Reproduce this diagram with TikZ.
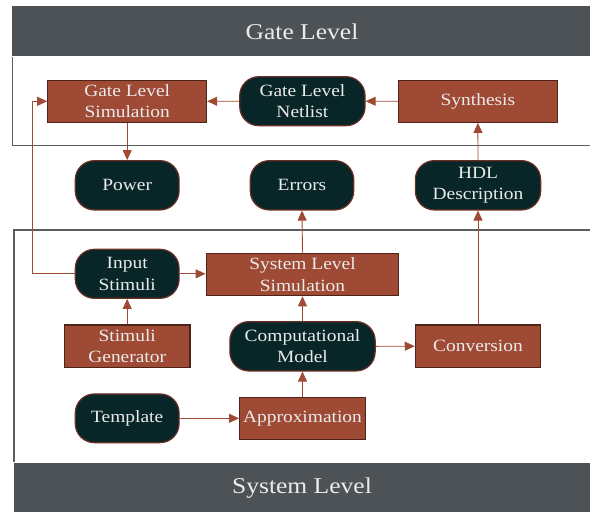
\documentclass[tikz,border=0pt]{standalone}
\usepackage{fontspec}
\setmainfont{Liberation Serif}[FakeStretch=1.13]
\usetikzlibrary{arrows.meta}
\definecolor{banner}{HTML}{4D5257}
\definecolor{rust}{HTML}{9E4A35}
\definecolor{rustdark}{HTML}{4F2418}
\definecolor{teal}{HTML}{082628}
\definecolor{tealedge}{HTML}{6B2E22}
\definecolor{arrowc}{HTML}{A04A35}
\definecolor{txt}{HTML}{EBEBEB}
\definecolor{framec}{HTML}{5A5E60}
\tikzset{
  base/.style={inner sep=0pt, align=center, text=txt,
    font=\fontsize{17.2}{21.5}\selectfont},
  rbox/.style={base, fill=rust, draw=rustdark, line width=1.2pt},
  dbox/.style={base, fill=teal, draw=tealedge, line width=1.2pt, rounded corners=19pt},
  arr/.style={draw=arrowc, line width=0.9pt, -{Triangle[length=10pt,width=9pt]}},
  frm/.style={draw=framec, line width=1.3pt},
}
\begin{document}
\begin{tikzpicture}[x=1pt,y=-1pt]
\useasboundingbox (0,0) rectangle (590,512);
% banners
\fill[banner] (12.4,6) rectangle (590,56);
\node[text=txt, font=\fontsize{22.6}{26}\selectfont] (gtitle) at (302,31.5) {Gate Level};
\fill[banner] (13.9,463.3) rectangle (590,512);
\node[text=txt, font=\fontsize{22.6}{26}\selectfont] (stitle) at (302,488.3) {System Level};
% frames
\draw[frm] (12.4,57) -- (12.4,145.7) -- (590,145.7);
\draw[frm] (590,230) -- (13.9,230) -- (13.9,461.7);
% nodes
\node[rbox, minimum width=158.8pt, minimum height=42pt] (gls) at (127.2,101.3) {Gate Level\\Simulation};
\node[dbox, minimum width=125.3pt, minimum height=49pt] (gln) at (302.4,101.2) {Gate Level\\Netlist};
\node[rbox, minimum width=158.8pt, minimum height=42pt] (syn) at (477.9,101.3) {Synthesis};
\node[dbox, minimum width=103.8pt, minimum height=49.3pt] (power) at (127.2,185.3) {Power};
\node[dbox, minimum width=103.5pt, minimum height=49.3pt] (errors) at (302,185.3) {Errors};
\node[dbox, minimum width=125.3pt, minimum height=49.3pt] (hdl) at (478,185.3) {HDL\\Description};
\node[dbox, minimum width=103.8pt, minimum height=49pt] (inp) at (127.2,273.8) {Input\\Stimuli};
\node[rbox, minimum width=192.7pt, minimum height=42.4pt] (sls) at (302.5,274.5) {System Level\\Simulation};
\node[rbox, minimum width=125.7pt, minimum height=42.3pt] (stg) at (127.2,346.2) {Stimuli\\Generator};
\node[dbox, minimum width=145.3pt, minimum height=49.3pt] (comp) at (302.5,346.3) {Computational\\Model};
\node[rbox, minimum width=125.3pt, minimum height=42.3pt] (conv) at (478,346.2) {Conversion};
\node[dbox, minimum width=103.8pt, minimum height=48.7pt] (tmpl) at (127.2,418.3) {Template};
\node[rbox, minimum width=125.7pt, minimum height=42pt] (approx) at (302.5,418.3) {Approximation};
% connectors
\draw[arr] (gln) -- (gls);
\draw[arr] (syn) -- (gln);
\draw[arr] (gls.south) -- (power.north);
\draw[arr] (hdl.north) -- (syn.south);
\draw[arr] (sls.north) -- (errors.south);
\draw[arr] (conv.north) -- (hdl.south);
\draw[arr] (inp.west) -- ++(-42.2,0) |- (gls.west);
\draw[arr] (inp.east) -- (sls.west |- inp.east);
\draw[arr] (stg.north) -- (inp.south);
\draw[arr] (comp.north) -- (sls.south);
\draw[arr] (comp.east) -- (conv.west);
\draw[arr] (approx.north) -- (comp.south);
\draw[arr] (tmpl.east) -- (approx.west);
\end{tikzpicture}
\end{document}
